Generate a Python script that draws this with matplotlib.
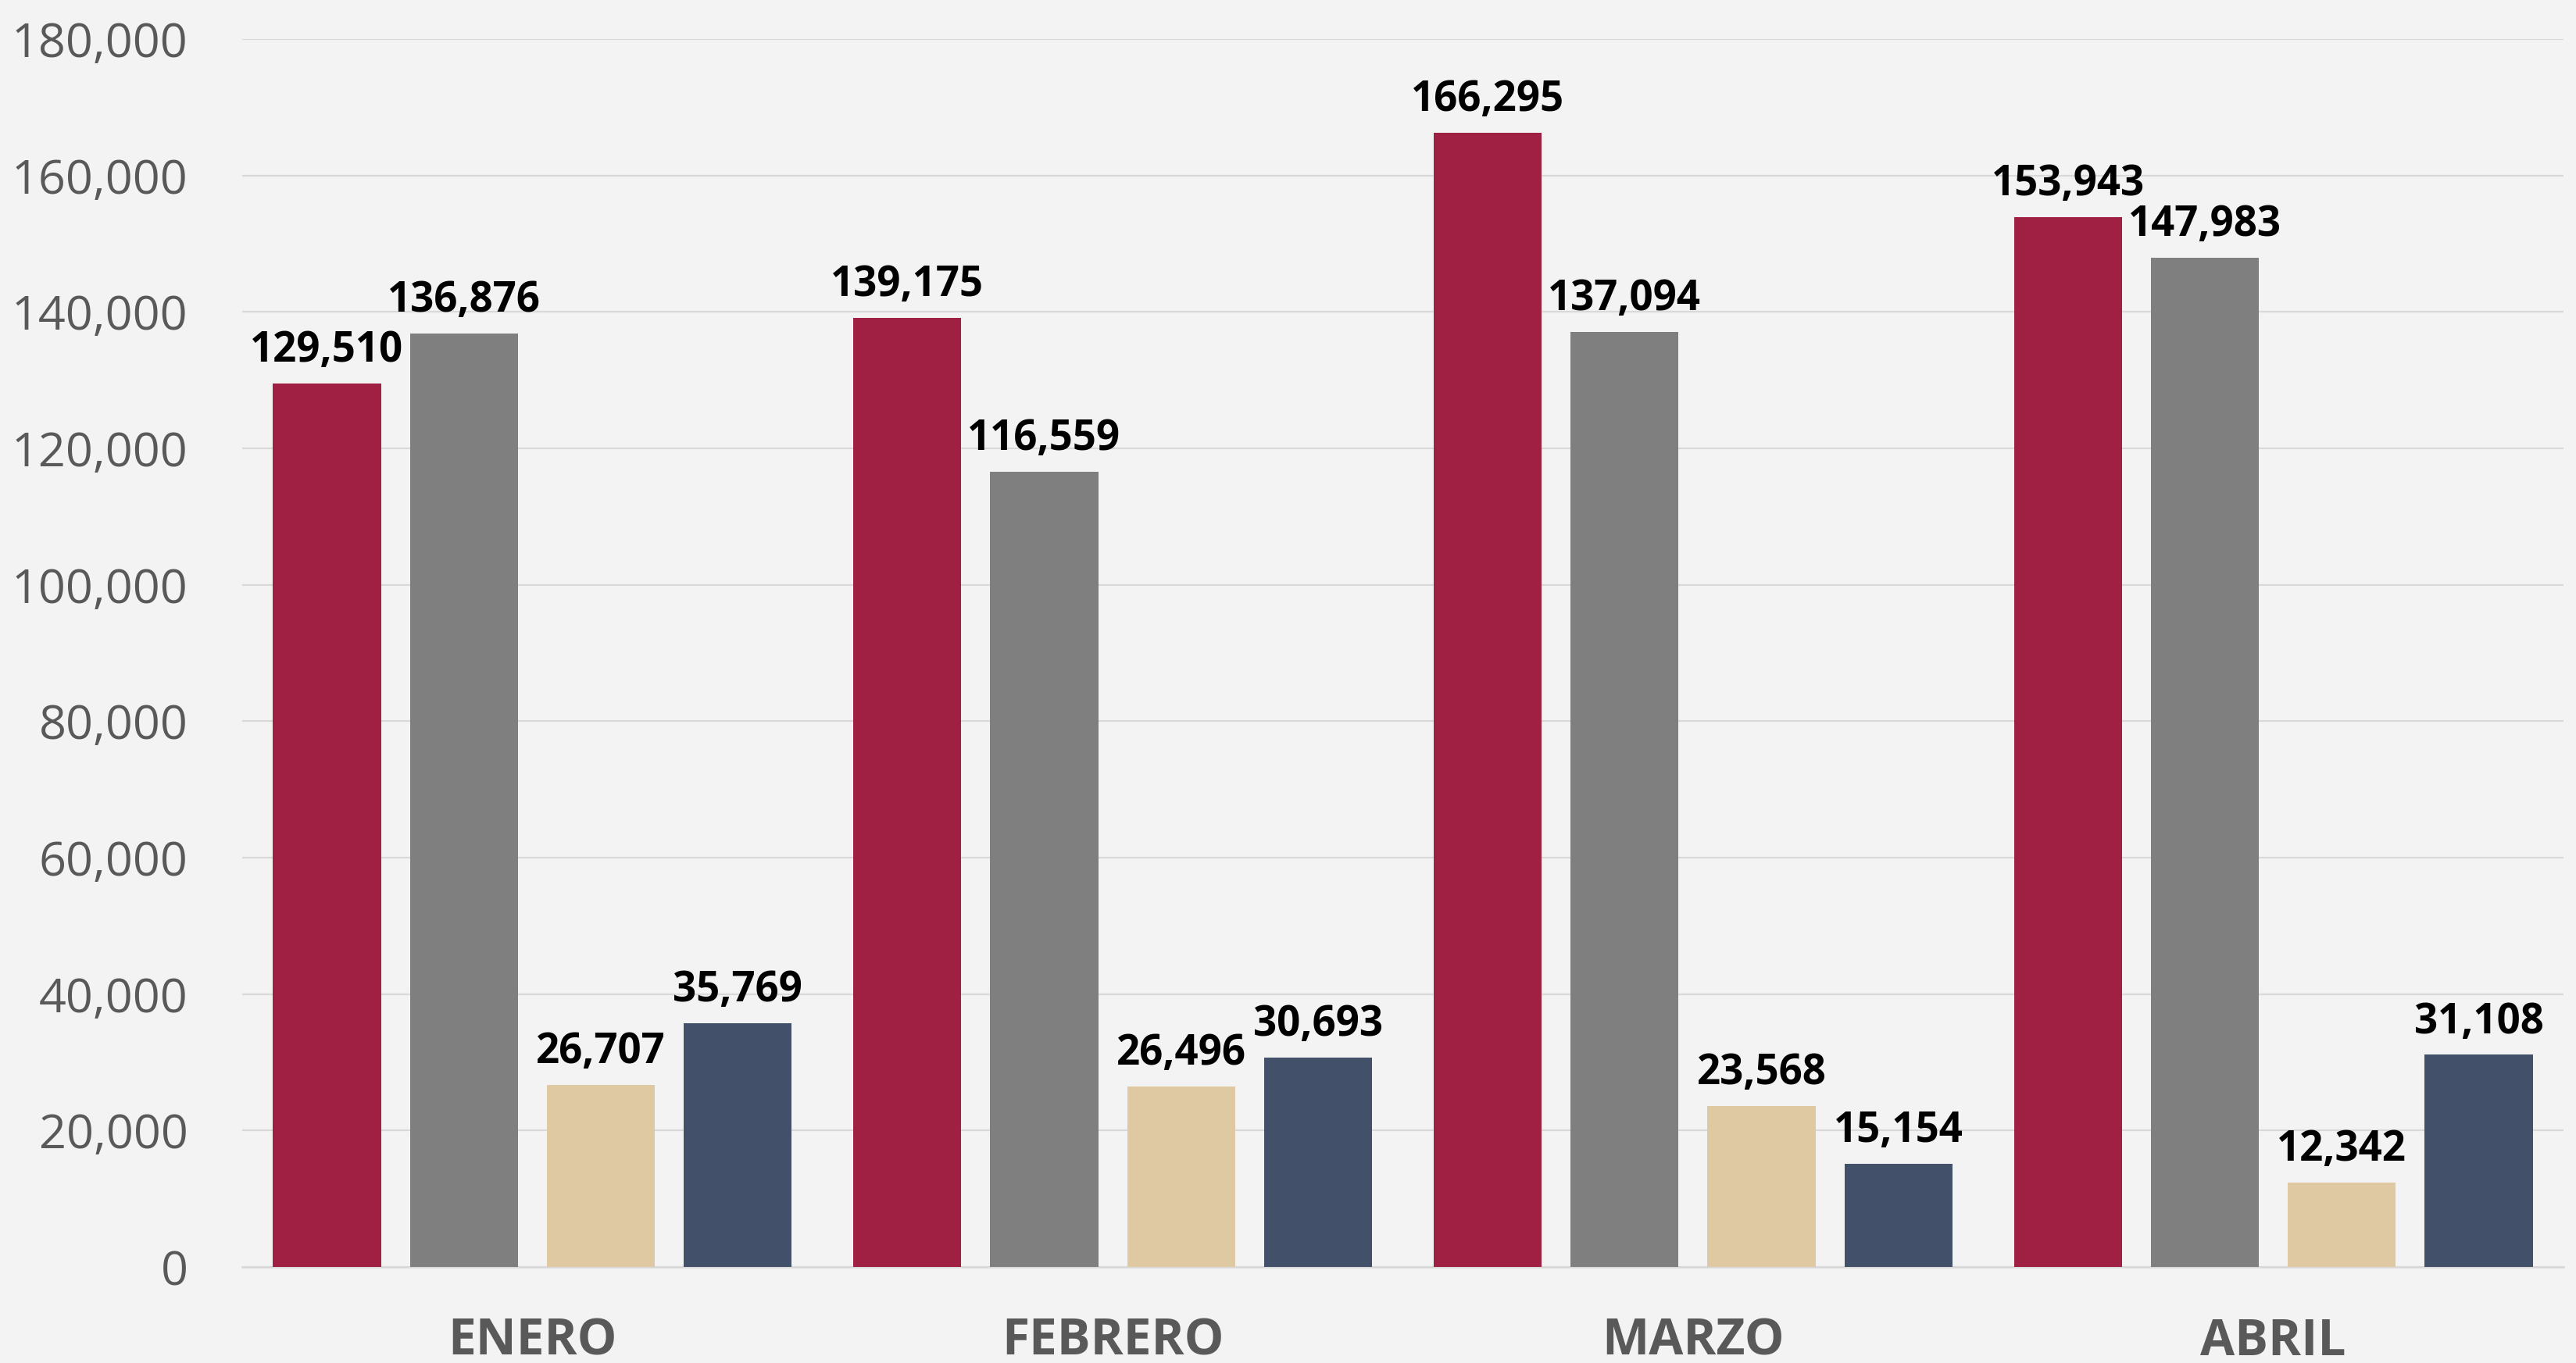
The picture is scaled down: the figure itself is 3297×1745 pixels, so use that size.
import matplotlib

matplotlib.use("Agg")
import matplotlib.pyplot as plt
import numpy as np

# monthly totals per series
months = ["ENERO", "FEBRERO", "MARZO", "ABRIL"]
serie_1 = [129510, 139175, 166295, 153943]
serie_2 = [136876, 116559, 137094, 147983]
serie_3 = [26707, 26496, 23568, 12342]
serie_4 = [35769, 30693, 15154, 31108]
yticks = [0, 20000, 40000, 60000, 80000, 100000, 120000, 140000, 160000, 180000]

COLORS = ["#9f2042", "#7f7f7f", "#dfc9a2", "#425169"]
BG = "#f3f3f3"
GRID = "#d9d9d9"
TXT = "#595959"

plt.rcParams["font.family"] = ["Open Sans", "DejaVu Sans"]

fig = plt.figure(figsize=(32.97, 17.45), dpi=100, facecolor=BG)
ax = fig.add_axes([310 / 3297, 1 - 1622 / 1745, 2971 / 3297, 1572 / 1745])
ax.set_facecolor(BG)

x = np.arange(len(months))
step = 0.236
width = 0.186
for i, (vals, col) in enumerate(zip([serie_1, serie_2, serie_3, serie_4], COLORS)):
    pos = x + (i - 1.5) * step
    bars = ax.bar(pos, vals, width, color=col, zorder=3)
    for b, v in zip(bars, vals):
        ax.annotate(f"{v:,}", (b.get_x() + b.get_width() / 2, v),
                    xytext=(0, 20), textcoords="offset points",
                    ha="center", va="baseline", fontsize=38,
                    fontweight="bold", color="black", zorder=4)

ax.set_xlim(-0.5, 3.5)
ax.set_ylim(0, 180000)
ax.set_yticks(yticks)
ax.set_yticklabels([f"{t:,}" for t in yticks], fontsize=44, color=TXT)
ax.set_xticks(x)
ax.set_xticklabels(months, fontsize=46, fontweight="bold", color=TXT)
ax.tick_params(axis="y", length=0, pad=50)
ax.tick_params(axis="x", length=0, pad=46)

ax.yaxis.grid(True, color=GRID, linewidth=1.6, zorder=0)
ax.set_axisbelow(True)
for s in ["top", "right", "left"]:
    ax.spines[s].set_visible(False)
ax.spines["bottom"].set_color(GRID)
ax.spines["bottom"].set_linewidth(2)

fig.savefig("out.png", dpi=100, facecolor=BG)
